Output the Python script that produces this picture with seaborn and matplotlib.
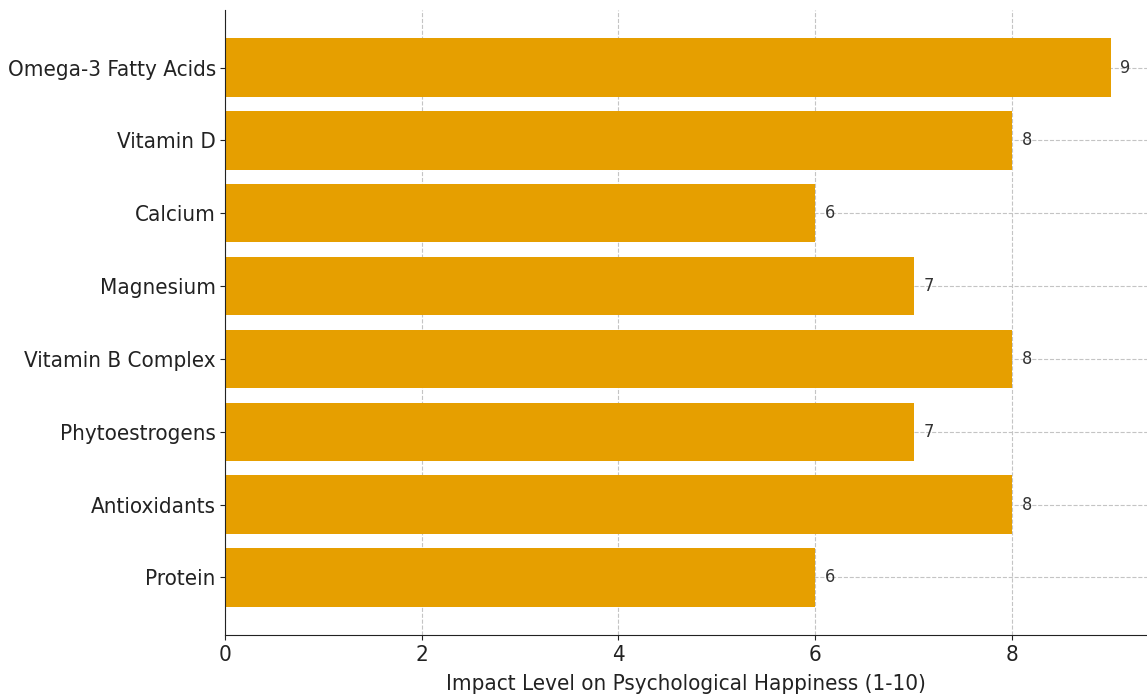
import seaborn as sns
import matplotlib.pyplot as plt
import pandas as pd

nutrients = ["Omega-3 Fatty Acids", "Vitamin D", "Calcium", "Magnesium",
             "Vitamin B Complex", "Phytoestrogens", "Antioxidants", "Protein"]
impact = [9, 8, 6, 7, 8, 7, 8, 6]

df = pd.DataFrame({"Nutrient": nutrients, "Impact": impact})

sns.set_style("ticks")
plt.rcParams["font.family"] = ["DejaVu Sans"]
plt.rcParams["font.stretch"] = "condensed"

fig = plt.figure(figsize=(11.47, 6.95), dpi=100)
ax = fig.add_axes([0.196, 0.0863, 0.804, 0.8993])

sns.barplot(data=df, x="Impact", y="Nutrient", orient="h", color="#E69F00",
            saturation=1, width=0.8, linewidth=0, ax=ax)

# valeurs au bout des barres
for i, v in enumerate(impact):
    ax.text(v + 0.1, i, str(v), va="center", ha="left", fontsize=13, color="#333333")

ax.set_xlim(0, 9.37)
ax.set_ylim(7.79, -0.79)
ax.set_xticks([0, 2, 4, 6, 8])
ax.grid(True, linestyle="--", color="#c4c4c4", linewidth=0.8)
ax.set_axisbelow(True)
ax.set_xlabel("Impact Level on Psychological Happiness (1-10)", fontsize=16,
              color="#222222", labelpad=7)
ax.set_ylabel("")
ax.tick_params(axis="both", labelsize=16, colors="#222222")
ax.tick_params(axis="y", pad=3)
sns.despine(ax=ax)
for s in ["left", "bottom"]:
    ax.spines[s].set_color("#222222")

fig.savefig("out.png", dpi=100)
